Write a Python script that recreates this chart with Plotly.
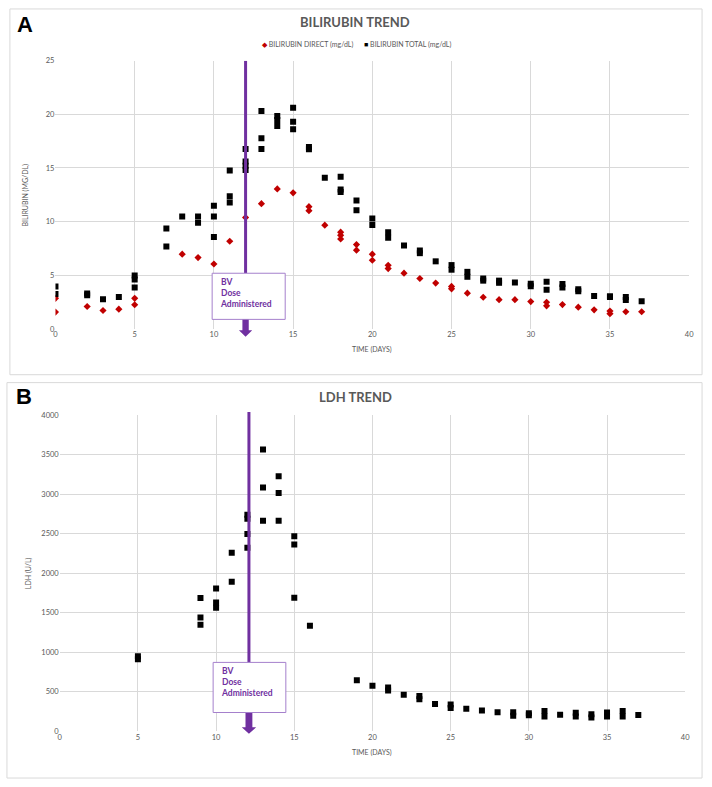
import plotly.graph_objects as go

# ---------------- DATA ----------------
direct_days = [0, 0, 2, 3, 4, 5, 5, 8, 9, 10, 11, 12, 13, 14, 15, 16, 16, 17, 18, 18, 18, 19, 19, 20, 20,
               21, 21, 22, 23, 24, 25, 25, 26, 27, 28, 29, 30, 31, 31, 32, 33, 34, 35, 35, 36, 37]
direct_vals = [2.85, 1.57, 2.09, 1.72, 1.84, 2.85, 2.25, 6.97, 6.65, 6.05, 8.17, 10.38, 11.67, 13.05, 12.68,
               11.39, 11.02, 9.67, 9.02, 8.72, 8.38, 7.86, 7.34, 6.97, 6.40, 5.93, 5.62, 5.20, 4.70, 4.27,
               3.96, 3.74, 3.33, 2.95, 2.73, 2.73, 2.55, 2.49, 2.15, 2.27, 2.03, 1.78, 1.66, 1.42, 1.60, 1.60]

total_days = [0, 0, 2, 2, 3, 4, 5, 5, 5, 7, 7, 8, 9, 9, 10, 10, 10, 11, 11, 11, 12, 12, 12, 12,
              13, 13, 13, 14, 14, 14, 15, 15, 15, 16, 16, 17, 18, 18, 18, 19, 19, 20, 20, 21, 21,
              22, 23, 23, 24, 25, 25, 26, 26, 27, 27, 28, 28, 29, 30, 30, 31, 31, 32, 32, 33, 33,
              34, 35, 35, 36, 36, 37]
total_vals = [3.96, 3.26, 3.30, 3.15, 2.76, 2.98, 4.97, 4.60, 3.87, 9.37, 7.68, 10.47, 10.47, 9.89,
              11.48, 10.47, 8.56, 14.77, 12.37, 11.79, 16.76, 15.60, 15.20, 14.80,
              20.30, 17.77, 16.76, 19.83, 19.47, 18.91, 20.60, 19.30, 18.60, 16.95, 16.75, 14.09,
              14.18, 13.00, 12.77, 11.97, 11.06, 10.29, 9.68, 9.00, 8.50, 7.77, 7.31, 7.06, 6.30,
              5.95, 5.52, 5.32, 4.86, 4.70, 4.50, 4.50, 4.30, 4.33, 4.20, 3.98, 4.39, 3.66, 4.18,
              3.86, 3.70, 3.50, 3.07, 3.05, 2.98, 2.98, 2.70, 2.58]

ldh_days = [5, 5, 9, 9, 9, 10, 10, 10, 11, 11, 12, 12, 12, 12, 13, 13, 13, 14, 14, 14, 15, 15, 15, 16,
            19, 20, 21, 21, 22, 23, 23, 24, 25, 25, 26, 27, 28, 29, 29, 30, 30, 31, 31, 32, 33, 33,
            34, 34, 35, 35, 36, 36, 37]
ldh_vals = [950, 910, 1684, 1438, 1346, 1805, 1628, 1563, 2259, 1890, 2738, 2688, 2496, 2321,
            3563, 3084, 2663, 3225, 3013, 2663, 2467, 2363, 1690, 1334,
            646, 575, 555, 517, 463, 446, 404, 346, 338, 296, 284, 263, 242, 242, 196, 228, 203,
            255, 188, 209, 234, 188, 217, 175, 238, 188, 255, 188, 205]

DIRECT_NAME = "BILIRUBIN DIRECT (mg/dL)"
TOTAL_NAME = "BILIRUBIN TOTAL (mg/dL)"
DOSE_DAY_TOP = 12.0
DOSE_DAY_BOT = 12.1

# ---------------- STYLE ----------------
W, H = 712, 787
GRID = "#D9D9D9"
TXT = "#595959"
PURPLE = "#7030A0"
BOXLINE = "#A580CC"
RED = "#C00000"
FONT = "Lato, 'Open Sans', sans-serif"


def py(p):  # pixel row -> paper y
    return 1 - p / H


def px(p):  # pixel column -> paper x
    return p / W


fig = go.Figure()
fig.add_trace(go.Scatter(x=direct_days, y=direct_vals, mode="markers", name=DIRECT_NAME,
                         marker=dict(symbol="diamond", size=5.5, color=RED), xaxis="x", yaxis="y"))
fig.add_trace(go.Scatter(x=total_days, y=total_vals, mode="markers", name=TOTAL_NAME,
                         marker=dict(symbol="square", size=6, color="black"), xaxis="x", yaxis="y"))
fig.add_trace(go.Scatter(x=ldh_days, y=ldh_vals, mode="markers", name="LDH",
                         marker=dict(symbol="square", size=6, color="black"), xaxis="x2", yaxis="y2"))

axcommon = dict(showgrid=True, gridcolor=GRID, gridwidth=1, zeroline=False, showline=False,
                ticks="", tickfont=dict(family=FONT, size=7.5, color=TXT))

fig.update_layout(
    width=W, height=H, margin=dict(l=0, r=0, t=0, b=0),
    paper_bgcolor="white", plot_bgcolor="white",
    font=dict(family=FONT, color=TXT),
    showlegend=False,
    xaxis=dict(domain=[px(54), px(694)], range=[0, 40], tickvals=[0, 5, 10, 15, 20, 25, 30, 35, 40],
               anchor="y", **axcommon),
    yaxis=dict(domain=[py(328.7), py(57.3)], range=[0, 25], tickvals=[0, 5, 10, 15, 20, 25],
               anchor="x", **axcommon),
    xaxis2=dict(domain=[px(58.3), px(690)], range=[0, 40], tickvals=[0, 5, 10, 15, 20, 25, 30, 35, 40],
                anchor="y2", **axcommon),
    yaxis2=dict(domain=[py(735.7), py(415.7)], range=[0, 4000],
                tickvals=[0, 500, 1000, 1500, 2000, 2500, 3000, 3500, 4000], anchor="x2", **axcommon),
)

shapes = []
# panel borders
shapes.append(dict(type="rect", xref="paper", yref="paper", x0=px(8), x1=px(707), y0=py(375), y1=py(5),
                   line=dict(color=GRID, width=1)))
shapes.append(dict(type="rect", xref="paper", yref="paper", x0=px(5), x1=px(707), y0=py(783), y1=py(383),
                   line=dict(color=GRID, width=1)))

# --- top dose marker
shapes.append(dict(type="line", xref="x", yref="y", x0=DOSE_DAY_TOP, x1=DOSE_DAY_TOP, y0=25, y1=5.19,
                   line=dict(color=PURPLE, width=3)))
shapes.append(dict(type="rect", xref="x", yref="y", x0=9.89, x1=14.5, y0=0.89, y1=5.19,
                   fillcolor="white", line=dict(color=BOXLINE, width=1)))
d = DOSE_DAY_TOP
shapes.append(dict(type="path", xref="x", yref="paper",
                   path=f"M {d-0.2},{py(319.5)} L {d+0.2},{py(319.5)} L {d+0.2},{py(330)} L {d+0.42},{py(330)} "
                        f"L {d},{py(336.7)} L {d-0.42},{py(330)} L {d-0.2},{py(330)} Z",
                   fillcolor=PURPLE, line=dict(width=0)))

# --- bottom dose marker
d = DOSE_DAY_BOT
shapes.append(dict(type="line", xref="x2", yref="paper", x0=d, x1=d, y0=py(412.7), y1=py(666),
                   line=dict(color=PURPLE, width=3)))
shapes.append(dict(type="rect", xref="x2", yref="y2", x0=9.81, x1=14.46, y0=237.5, y1=871,
                   fillcolor="white", line=dict(color=BOXLINE, width=1)))
shapes.append(dict(type="path", xref="x2", yref="paper",
                   path=f"M {d-0.22},{py(717.2)} L {d+0.22},{py(717.2)} L {d+0.22},{py(731.7)} L {d+0.46},{py(731.7)} "
                        f"L {d},{py(738.3)} L {d-0.46},{py(731.7)} L {d-0.22},{py(731.7)} Z",
                   fillcolor=PURPLE, line=dict(width=0)))
fig.update_layout(shapes=shapes)

legend_text = (f'<span style="color:{RED}">◆</span> {DIRECT_NAME}'
               f'&nbsp;&nbsp;&nbsp;&nbsp;&nbsp;&nbsp;<span style="color:black">■</span> {TOTAL_NAME}')

box_text = "<b>BV</b><br><b>Dose</b><br><b>Administered</b>"
ann = [
    dict(text="<b>A</b>", xref="paper", yref="paper", x=px(13), y=py(21), xanchor="left", yanchor="middle",
         showarrow=False, font=dict(family="Liberation Sans, Arial", size=22, color="black")),
    dict(text="<b>B</b>", xref="paper", yref="paper", x=px(12), y=py(397), xanchor="left", yanchor="middle",
         showarrow=False, font=dict(family="Liberation Sans, Arial", size=22, color="black")),
    dict(text="<b>BILIRUBIN TREND</b>", xref="paper", yref="paper", x=px(357), y=py(18), xanchor="center",
         yanchor="middle", showarrow=False, font=dict(family=FONT, size=13, color=TXT)),
    dict(text="<b>LDH TREND</b>", xref="paper", yref="paper", x=px(357), y=py(398), xanchor="center",
         yanchor="middle", showarrow=False, font=dict(family=FONT, size=13, color=TXT)),
    dict(text=legend_text, xref="paper", yref="paper", x=px(358), y=py(41), xanchor="center",
         yanchor="middle", showarrow=False, font=dict(family=FONT, size=7, color=TXT)),
    dict(text="BILIRUBIN (MG/DL)", xref="paper", yref="paper", x=px(24), y=py(193), textangle=-90,
         xanchor="center", yanchor="middle", showarrow=False, font=dict(family=FONT, size=7, color=TXT)),
    dict(text="TIME (DAYS)", xref="paper", yref="paper", x=px(374), y=py(350), xanchor="center",
         yanchor="middle", showarrow=False, font=dict(family=FONT, size=7, color=TXT)),
    dict(text="LDH (U/L)", xref="paper", yref="paper", x=px(27), y=py(576), textangle=-90,
         xanchor="center", yanchor="middle", showarrow=False, font=dict(family=FONT, size=7, color=TXT)),
    dict(text="TIME (DAYS)", xref="paper", yref="paper", x=px(374), y=py(757), xanchor="center",
         yanchor="middle", showarrow=False, font=dict(family=FONT, size=7, color=TXT)),
    dict(text=box_text, xref="x", yref="y", x=10.27, y=3.38, xanchor="left", yanchor="middle", align="left",
         showarrow=False, font=dict(family=FONT, size=8.5, color=PURPLE)),
    dict(text=box_text, xref="x2", yref="y2", x=10.19, y=617.5, xanchor="left", yanchor="middle", align="left",
         showarrow=False, font=dict(family=FONT, size=8.5, color=PURPLE)),
]
fig.update_layout(annotations=ann)

fig.write_html("out.html")
